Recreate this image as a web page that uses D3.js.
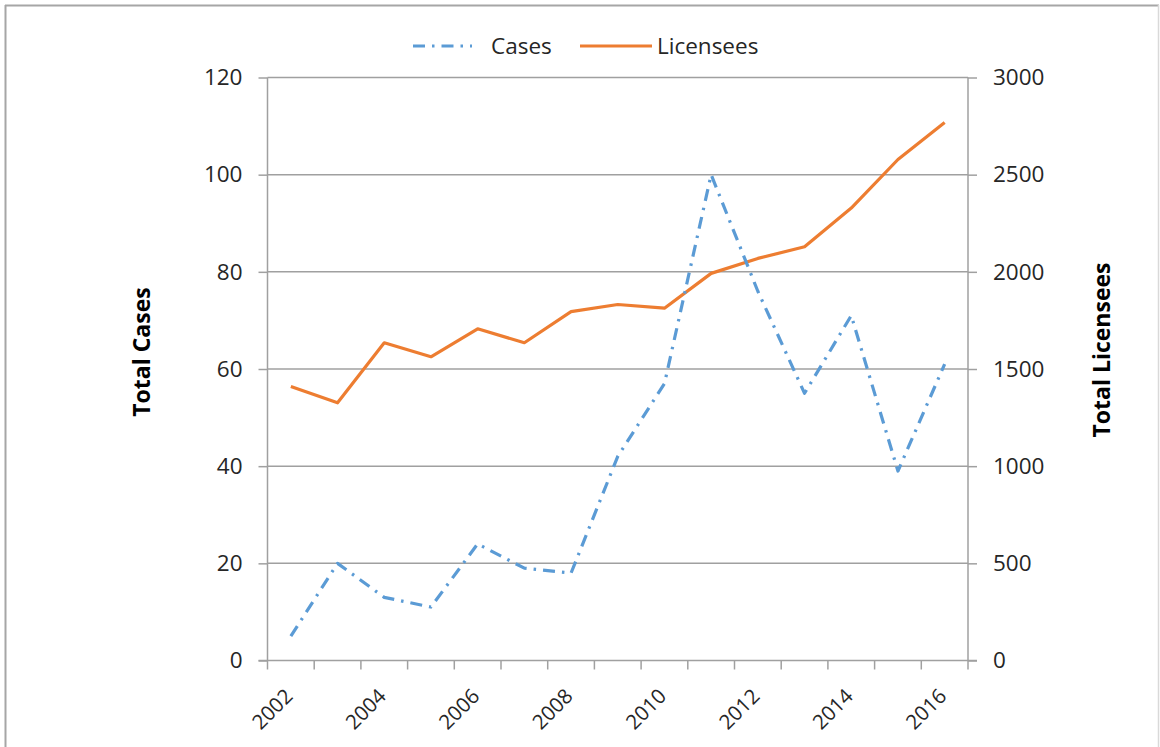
<!DOCTYPE html>
<html lang="en">
<head>
  <meta charset="UTF-8">
  <title>Cases and Licensees</title>
  <script src="https://d3js.org/d3.v7.min.js"></script>
  <style>
    body { margin: 0; background: #fff; font-family: "Open Sans", sans-serif; }
    svg { display: block; }
    .tick text { font-size: 22.5px; fill: #262626; font-family: "Open Sans", sans-serif; }
    .axis-title { font-size: 23px; font-weight: bold; fill: #000; }
    .legend text { font-size: 22.5px; fill: #262626; }
  </style>
</head>
<body>
  <svg width="1160" height="747"></svg>

  <script>
    const years = [2002, 2003, 2004, 2005, 2006, 2007, 2008, 2009, 2010, 2011, 2012, 2013, 2014, 2015, 2016];
    const cases = [5, 20, 13, 11, 24, 19, 18, 42, 57, 100, 76, 55, 71, 39, 61];
    const licensees = [1410, 1326, 1635, 1563, 1707, 1635, 1795, 1832, 1813, 1992, 2069, 2129, 2328, 2578, 2769];
    const casesTicks = [0, 20, 40, 60, 80, 100, 120];
    const licTicks = [0, 500, 1000, 1500, 2000, 2500, 3000];

    const svg = d3.select("svg");
    const plotL = 267.5, plotR = 968, plotT = 77.5, plotB = 660.5;

    // chart frame
    svg.append("line").attr("x1", 5.5).attr("x2", 5.5).attr("y1", 5).attr("y2", 747)
      .attr("stroke", "#a6a6a6").attr("stroke-width", 2);
    svg.append("line").attr("x1", 5).attr("x2", 1159).attr("y1", 5.5).attr("y2", 5.5)
      .attr("stroke", "#a6a6a6").attr("stroke-width", 2);
    svg.append("line").attr("x1", 1158.5).attr("x2", 1158.5).attr("y1", 5).attr("y2", 747)
      .attr("stroke", "#d9d9d9").attr("stroke-width", 1.5);

    const x = d3.scaleBand().domain(years).range([plotL, plotR]).padding(0);
    const yL = d3.scaleLinear().domain([0, 120]).range([plotB, plotT]);
    const yR = d3.scaleLinear().domain([0, 3000]).range([plotB, plotT]);
    const cx = d => x(d) + x.bandwidth() / 2;

    // gridlines
    svg.append("g")
      .selectAll("line")
      .data(casesTicks.slice(1))
      .join("line")
        .attr("x1", plotL).attr("x2", plotR)
        .attr("y1", d => yL(d)).attr("y2", d => yL(d))
        .attr("stroke", "#a0a0a0").attr("stroke-width", 1.5);

    // left axis
    const gL = svg.append("g")
      .attr("transform", `translate(${plotL},0)`)
      .call(d3.axisLeft(yL).tickValues(casesTicks).tickSize(9).tickPadding(16));
    gL.selectAll("line, path").attr("stroke", "#a0a0a0").attr("stroke-width", 1.5);
    gL.select(".domain").attr("d", `M0,${plotT}V${plotB}`);

    // right axis
    const gR = svg.append("g")
      .attr("transform", `translate(${plotR},0)`)
      .call(d3.axisRight(yR).tickValues(licTicks).tickSize(9).tickPadding(16).tickFormat(d3.format("d")));
    gR.selectAll("line, path").attr("stroke", "#a0a0a0").attr("stroke-width", 1.5);
    gR.select(".domain").attr("d", `M0,${plotT}V${plotB}`);

    // bottom axis with ticks between categories
    const gX = svg.append("g");
    gX.append("line")
      .attr("x1", plotL - 9).attr("x2", plotR + 9)
      .attr("y1", plotB).attr("y2", plotB)
      .attr("stroke", "#a0a0a0").attr("stroke-width", 1.5);
    gX.selectAll("line.tk")
      .data(years.map(d => x(d)).concat([plotR]))
      .join("line")
        .attr("class", "tk")
        .attr("x1", d => d).attr("x2", d => d)
        .attr("y1", plotB).attr("y2", plotB + 9)
        .attr("stroke", "#a0a0a0").attr("stroke-width", 1.5);
    gX.selectAll("text")
      .data(years.filter((d, i) => i % 2 === 0))
      .join("text")
        .attr("transform", d => `translate(${cx(d) - 2},${plotB + 32}) rotate(-45)`)
        .attr("text-anchor", "end")
        .attr("dy", "0.35em")
        .attr("font-size", 20.5)
        .attr("fill", "#262626")
        .text(d => d);

    // axis titles
    svg.append("text")
      .attr("class", "axis-title")
      .attr("transform", `translate(142,352) rotate(-90)`)
      .attr("text-anchor", "middle")
      .attr("dy", "0.35em")
      .text("Total Cases");
    svg.append("text")
      .attr("class", "axis-title")
      .attr("transform", `translate(1102,350) rotate(-90)`)
      .attr("text-anchor", "middle")
      .attr("dy", "0.35em")
      .text("Total Licensees");

    // lines
    const lineL = d3.line().x((d, i) => cx(years[i])).y(d => yL(d));
    const lineR = d3.line().x((d, i) => cx(years[i])).y(d => yR(d));

    svg.append("path")
      .datum(licensees)
      .attr("d", lineR)
      .attr("fill", "none")
      .attr("stroke", "#ED7D31")
      .attr("stroke-width", 3.2)
      .attr("stroke-linejoin", "round");

    svg.append("path")
      .datum(cases)
      .attr("d", lineL)
      .attr("fill", "none")
      .attr("stroke", "#5B9BD5")
      .attr("stroke-width", 3.2)
      .attr("stroke-dasharray", "12,7,2.5,7")
      .attr("stroke-linejoin", "round");

    // legend
    const lg = svg.append("g").attr("class", "legend");
    lg.append("line")
      .attr("x1", 413).attr("x2", 472).attr("y1", 46).attr("y2", 46)
      .attr("stroke", "#5B9BD5").attr("stroke-width", 3.2)
      .attr("stroke-dasharray", "12,7,2.5,7");
    lg.append("text").attr("x", 491).attr("y", 46).attr("dy", "0.35em").text("Cases");
    lg.append("line")
      .attr("x1", 580).attr("x2", 652).attr("y1", 46).attr("y2", 46)
      .attr("stroke", "#ED7D31").attr("stroke-width", 3.2);
    lg.append("text").attr("x", 657).attr("y", 46).attr("dy", "0.35em").text("Licensees");
  </script>
</body>
</html>
